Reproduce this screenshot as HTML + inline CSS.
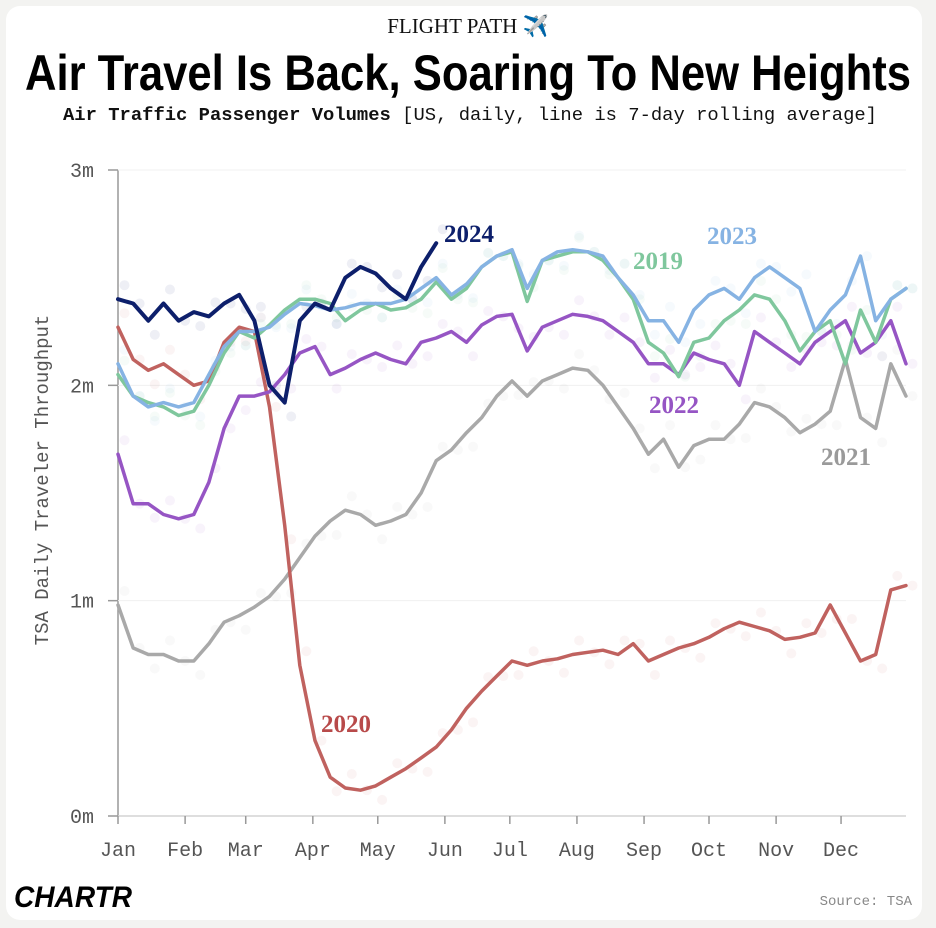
<!DOCTYPE html>
<html><head><meta charset="utf-8"><style>
html,body{margin:0;padding:0;background:#f3f3f1;}
svg{display:block}
</style></head><body>
<svg id="chart" width="936" height="928" viewBox="0 0 936 928">
<rect x="6" y="6" width="916" height="914" rx="14" fill="#ffffff"/>
<text x="468" y="33" text-anchor="middle" font-family="Liberation Serif, serif" font-size="21" fill="#111">FLIGHT PATH ✈️</text>
<text x="468" y="90" text-anchor="middle" textLength="886" lengthAdjust="spacingAndGlyphs" font-family="Liberation Sans Narrow, Liberation Sans, sans-serif" font-weight="bold" font-size="50" fill="#000">Air Travel Is Back, Soaring To New Heights</text>
<text x="470" y="120" text-anchor="middle" textLength="814" lengthAdjust="spacingAndGlyphs" font-family="Liberation Mono, monospace" font-size="18" fill="#111"><tspan font-weight="bold">Air Traffic Passenger Volumes</tspan> [US, daily, line is 7-day rolling average]</text>
<g id="grid"></g>
<g id="lines"></g>
<g id="labels" font-family="Liberation Serif, serif" font-weight="bold" font-size="25">
<text x="444" y="242" fill="#0d1f6b">2024</text>
<text x="707" y="244" fill="#86b3e3">2023</text>
<text x="633" y="269" fill="#7fc79d">2019</text>
<text x="649" y="413" fill="#9655c4">2022</text>
<text x="821" y="465" fill="#9a9a9a">2021</text>
<text x="321" y="732" fill="#b84a4a">2020</text>
</g>
<text transform="translate(48,480) rotate(-90)" text-anchor="middle" font-family="Liberation Mono, monospace" font-size="19" fill="#555">TSA Daily Traveler Throughput</text>
<text x="14" y="907" font-family="Liberation Sans, sans-serif" font-weight="bold" font-style="italic" font-size="30" fill="#000" textLength="118" lengthAdjust="spacingAndGlyphs">CHARTR</text>
<text x="912" y="905" text-anchor="end" font-family="Liberation Mono, monospace" font-size="14" fill="#888">Source: TSA</text>
</svg>
<script>
const yTicks=[0,1,2,3];
const yTickLabels=["0m","1m","2m","3m"];
const months=["Jan","Feb","Mar","Apr","May","Jun","Jul","Aug","Sep","Oct","Nov","Dec"];
const monthDays=[0,31,59,90,120,151,181,212,243,273,304,334];
const years=["2021","2020","2022","2019","2023","2024"];
const s2019=[2.05,1.95,1.92,1.9,1.86,1.88,2.0,2.15,2.25,2.22,2.28,2.35,2.4,2.4,2.38,2.3,2.35,2.38,2.35,2.36,2.4,2.48,2.4,2.45,2.55,2.6,2.62,2.39,2.58,2.6,2.62,2.62,2.58,2.5,2.4,2.2,2.15,2.04,2.2,2.22,2.3,2.35,2.42,2.4,2.3,2.16,2.25,2.3,2.1,2.35,2.2,2.4,2.45];
const s2023=[2.1,1.95,1.9,1.92,1.9,1.92,2.05,2.18,2.25,2.25,2.27,2.33,2.38,2.37,2.35,2.36,2.38,2.38,2.38,2.4,2.45,2.5,2.42,2.47,2.55,2.6,2.63,2.45,2.58,2.62,2.63,2.62,2.6,2.5,2.42,2.3,2.3,2.2,2.35,2.42,2.45,2.4,2.5,2.55,2.5,2.45,2.25,2.35,2.42,2.6,2.3,2.4,2.45];
const s2022=[1.68,1.45,1.45,1.4,1.38,1.4,1.55,1.8,1.95,1.95,1.97,2.05,2.15,2.18,2.05,2.08,2.12,2.15,2.12,2.1,2.2,2.22,2.25,2.2,2.28,2.32,2.33,2.16,2.27,2.3,2.33,2.32,2.3,2.25,2.2,2.1,2.1,2.05,2.15,2.12,2.1,2.0,2.25,2.2,2.15,2.1,2.2,2.25,2.3,2.15,2.2,2.3,2.1];
const s2021=[0.98,0.78,0.75,0.75,0.72,0.72,0.8,0.9,0.93,0.97,1.02,1.1,1.2,1.3,1.37,1.42,1.4,1.35,1.37,1.4,1.5,1.65,1.7,1.78,1.85,1.95,2.02,1.95,2.02,2.05,2.08,2.07,2.0,1.9,1.8,1.68,1.75,1.62,1.72,1.75,1.75,1.82,1.92,1.9,1.85,1.78,1.82,1.88,2.12,1.85,1.8,2.1,1.95];
const s2020=[2.27,2.12,2.07,2.1,2.05,2.0,2.02,2.2,2.27,2.25,1.9,1.35,0.7,0.35,0.18,0.13,0.12,0.14,0.18,0.22,0.27,0.32,0.4,0.5,0.58,0.65,0.72,0.7,0.72,0.73,0.75,0.76,0.77,0.75,0.8,0.72,0.75,0.78,0.8,0.83,0.87,0.9,0.88,0.86,0.82,0.83,0.85,0.98,0.85,0.72,0.75,1.05,1.07];
const s2024=[2.4,2.38,2.3,2.38,2.3,2.34,2.32,2.38,2.42,2.3,2.0,1.92,2.3,2.38,2.35,2.5,2.55,2.52,2.45,2.4,2.55,2.66];
const seriesData={"2019":s2019,"2023":s2023,"2022":s2022,"2021":s2021,"2020":s2020,"2024":s2024};
const colors={"2019":"#7fc79d","2023":"#86b3e3","2022":"#9655c4","2021":"#a9a9a9","2020":"#c0625f","2024":"#0d1f6b"};
const X0=118,X1=906,Y0=816,Y3=170;
function xScale(d){return X0+d*(X1-X0)/364;}
function yScale(v){return Y0-v*(Y0-Y3)/3;}
const NS="http://www.w3.org/2000/svg";
const grid=document.getElementById('grid');
function mk(tag,attrs,parent){const e=document.createElementNS(NS,tag);for(const k in attrs)e.setAttribute(k,attrs[k]);parent.appendChild(e);return e;}
const ax=mk('line',{x1:X0,x2:X0,y1:Y3,y2:Y0,stroke:'#999','stroke-width':1.5},grid);


const bx=mk('line',{x1:X0,x2:X1,y1:Y0,y2:Y0,stroke:'#999','stroke-width':1.5},grid);


yTicks.forEach((t,i)=>{
  const y=yScale(t);
  const g=mk('line',{x1:X0,x2:X1,y1:y,y2:y,stroke:'#f0f0f0','stroke-width':1},grid);
  
  
  const tk=mk('line',{x1:X0-10,x2:X0,y1:y,y2:y,stroke:'#999','stroke-width':1.5},grid);
  
  
  const tx=mk('text',{x:X0-24,y:y+7,'text-anchor':'end','font-family':'Liberation Mono, monospace','font-size':20,fill:'#555'},grid);
  tx.textContent=yTickLabels[i];
  
  
});
months.forEach((m,i)=>{
  const x=xScale(monthDays[i]);
  const tk=mk('line',{x1:x,x2:x,y1:Y0,y2:Y0+8,stroke:'#999','stroke-width':1.5},grid);
  
  
  const tx=mk('text',{x:x,y:Y0+40,'text-anchor':'middle','font-family':'Liberation Mono, monospace','font-size':20,fill:'#555'},grid);
  tx.textContent=m;
  
  
});
const lines=document.getElementById('lines');
years.forEach(yr=>{
  const arr=seriesData[yr];
  arr.forEach((v,i)=>{
    const c=mk('circle',{cx:xScale(i*7+3),cy:yScale(v)+((i%3)-1)*14,r:5,fill:colors[yr],opacity:0.07},lines);
    
    
  });
});
years.forEach(yr=>{
  const arr=seriesData[yr];
  const d=arr.map((v,i)=>(i?'L':'M')+xScale(Math.min(i*7,364)).toFixed(1)+','+yScale(v).toFixed(1)).join(' ');
  const p=mk('path',{d:d,fill:'none',stroke:colors[yr],'stroke-width':yr==='2024'?4:3.5,'stroke-linejoin':'round','stroke-linecap':'round'},lines);
  
  
});
</script>
</body></html>
